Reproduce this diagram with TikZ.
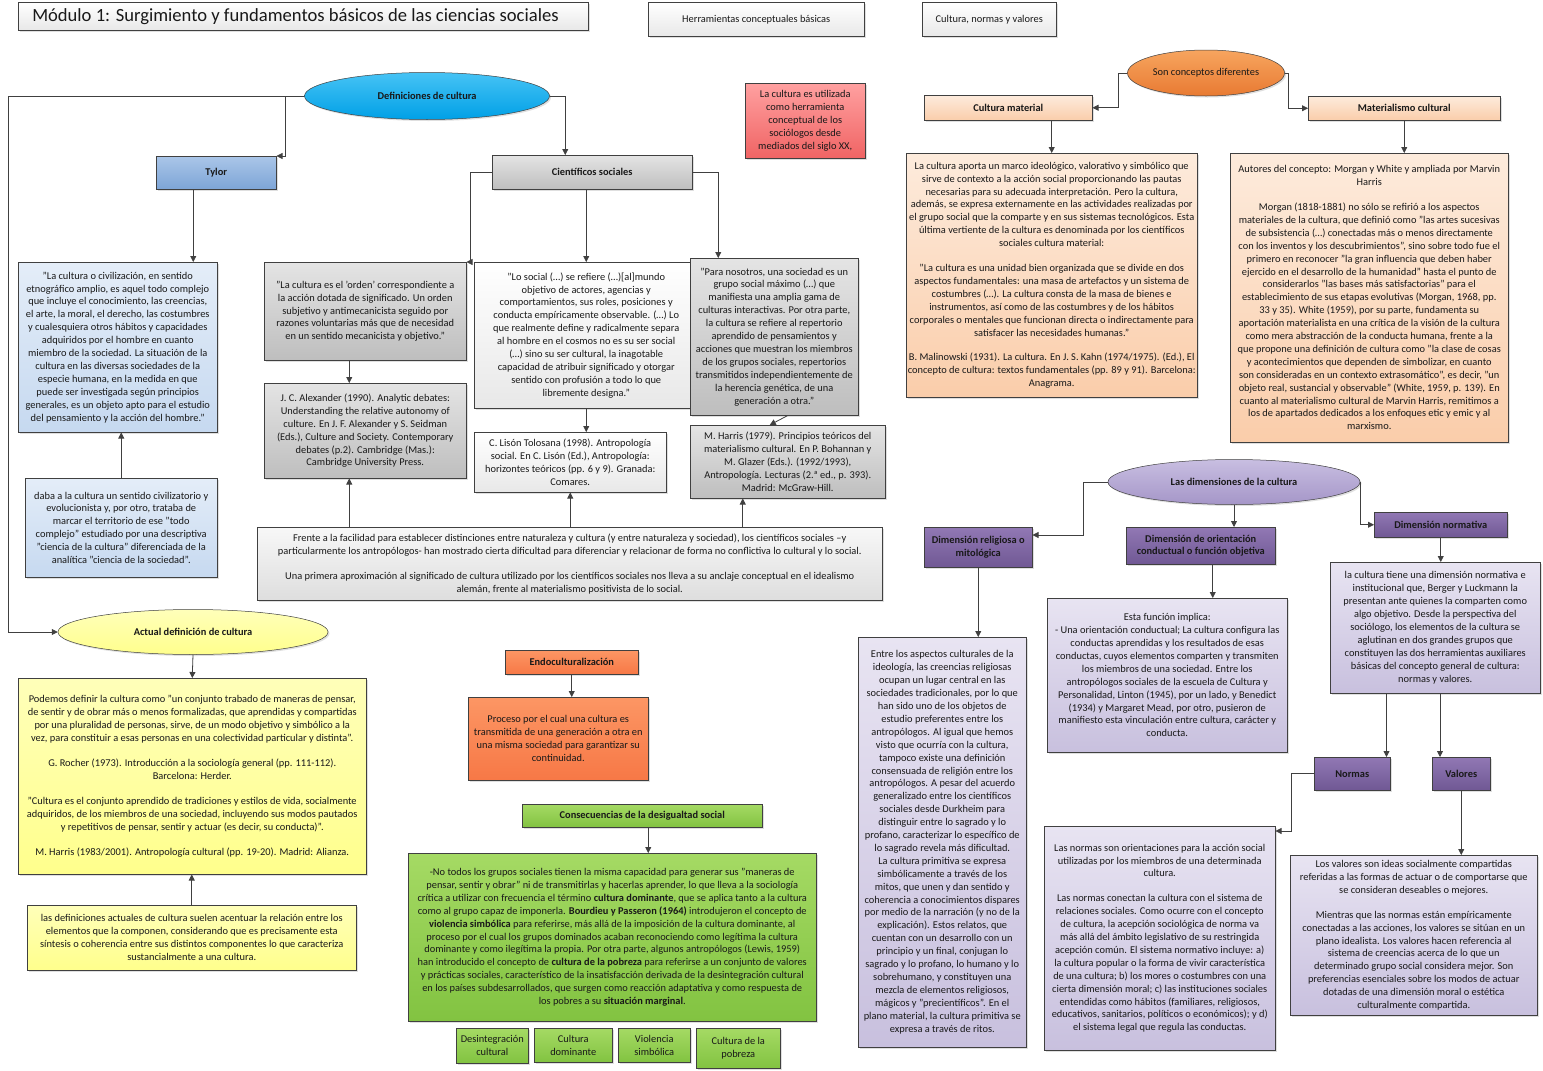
\documentclass[tikz,border=0pt]{standalone}
\usepackage{fontspec}
\setmainfont{Carlito}
\usetikzlibrary{arrows.meta,shapes.geometric,shadows,positioning}

\definecolor{lncol}{RGB}{64,64,64}
\definecolor{txtcol}{RGB}{25,25,25}
\definecolor{hdrB}{RGB}{232,232,232}
\definecolor{cyanT}{RGB}{70,195,245}
\definecolor{cyanB}{RGB}{0,160,230}
\definecolor{blueT}{RGB}{170,198,232}
\definecolor{blueB}{RGB}{125,165,215}
\definecolor{bluelT}{RGB}{228,237,248}
\definecolor{bluelB}{RGB}{198,217,240}
\definecolor{grayT}{RGB}{228,228,228}
\definecolor{grayB}{RGB}{190,190,190}
\definecolor{graylB}{RGB}{232,232,232}
\definecolor{redT}{RGB}{255,160,160}
\definecolor{redB}{RGB}{240,100,100}
\definecolor{yelT}{RGB}{255,255,185}
\definecolor{yelB}{RGB}{255,255,140}
\definecolor{corT}{RGB}{252,150,100}
\definecolor{corB}{RGB}{247,120,70}
\definecolor{grnT}{RGB}{165,218,100}
\definecolor{grnB}{RGB}{130,195,65}
\definecolor{oraT}{RGB}{247,165,95}
\definecolor{oraB}{RGB}{232,122,50}
\definecolor{peaT}{RGB}{253,235,220}
\definecolor{peaB}{RGB}{250,205,170}
\definecolor{lavT}{RGB}{200,190,225}
\definecolor{lavB}{RGB}{165,150,200}
\definecolor{purT}{RGB}{145,120,180}
\definecolor{purB}{RGB}{112,88,148}
\definecolor{lvtT}{RGB}{232,228,242}
\definecolor{lvtB}{RGB}{200,192,222}

\begin{document}
\begin{tikzpicture}[x=1pt,y=-1pt,
  font=\fontsize{10.4}{12.9}\selectfont,
  box/.style={draw=lncol,line width=0.5pt,align=center,inner sep=1.5pt,
    anchor=north west,text=txtcol,
    drop shadow={opacity=0.25,shadow xshift=1.5pt,shadow yshift=-1.5pt}},
  wh/.style 2 args={minimum width=#1,minimum height=#2},
  bold/.style={font=\fontsize{10.4}{12.9}\selectfont\bfseries},
  oval/.style={ellipse,draw=lncol,line width=0.5pt,inner sep=0pt,text=txtcol,
    drop shadow={opacity=0.25,shadow xshift=1.5pt,shadow yshift=-1.5pt}},
  arr/.style={draw=lncol,line width=0.8pt,-{Triangle[length=6pt,width=6pt]}},
  hdr/.style={top color=white,bottom color=hdrB},
  cyanfill/.style={top color=cyanT,bottom color=cyanB},
  bluelab/.style={top color=blueT,bottom color=blueB},
  bluetxt/.style={top color=bluelT,bottom color=bluelB},
  graytxt/.style={top color=grayT,bottom color=grayB},
  whitetxt/.style={top color=white,bottom color=graylB},
  frentefill/.style={top color=white!97!black,bottom color=white!87!black},
  redfill/.style={top color=redT,bottom color=redB},
  yelfill/.style={top color=yelT,bottom color=yelB},
  corfill/.style={top color=corT,bottom color=corB},
  grnfill/.style={top color=grnT,bottom color=grnB},
  orafill/.style={top color=oraT,bottom color=oraB},
  peafill/.style={top color=peaT,bottom color=peaB},
  lavfill/.style={top color=lavT,bottom color=lavB},
  purlab/.style={top color=purT,bottom color=purB},
  lavtxt/.style={top color=lvtT,bottom color=lvtB}]
\def\gap{12pt}
\useasboundingbox (0,0) rectangle (1543,1071);
\fill[white] (0,0) rectangle (1543,1071);

% cabecera
\node[box,hdr,minimum height=28,inner xsep=14pt,
  font=\fontsize{18.6}{20}\selectfont] (titulo) at (18,2)
  {\makebox[542pt][l]{Módulo 1: Surgimiento y fundamentos básicos de las ciencias sociales}};
\node[box,hdr,wh={216}{34}] (herr) at (648,2) {Herramientas conceptuales básicas};
\node[box,hdr,wh={134}{34}] (cnv) at (922,2) {Cultura, normas y valores};

% definiciones de cultura
\node[oval,cyanfill,bold,minimum width=245,minimum height=47] (defs) at (427,96)
  {Definiciones de cultura};
\node[box,bluelab,bold,wh={120}{33}] (tylor) at (156,156) {Tylor};
\node[box,graytxt,bold,wh={200}{34}] (cs) at (492,155) {Científicos sociales};
\node[box,redfill,wh={120}{75}] (siglo) at (745,83)
  {La cultura es utilizada\\como herramienta\\conceptual de los\\sociólogos desde\\mediados del siglo XX,};
\node[box,bluetxt,wh={199}{170}] (tylq) at (18,262)
  {"La cultura o civilización, en sentido\\etnográfico amplio, es aquel todo complejo\\que incluye el conocimiento, las creencias,\\el arte, la moral, el derecho, las costumbres\\y cualesquiera otros hábitos y capacidades\\adquiridos por el hombre en cuanto\\miembro de la sociedad. La situación de la\\cultura en las diversas sociedades de la\\especie humana, en la medida en que\\puede ser investigada según principios\\generales, es un objeto apto para el estudio\\del pensamiento y la acción del hombre."};
\node[box,bluetxt,wh={192}{99}] (daba) at (25,478)
  {daba a la cultura un sentido civilizatorio y\\evolucionista y, por otro, trataba de\\marcar el territorio de ese "todo\\complejo" estudiado por una descriptiva\\"ciencia de la cultura" diferenciada de la\\analítica "ciencia de la sociedad".};
\node[box,graytxt,wh={202}{98}] (q1) at (264,262)
  {"La cultura es el 'orden' correspondiente a\\la acción dotada de significado. Un orden\\subjetivo y antimecanicista seguido por\\razones voluntarias más que de necesidad\\en un sentido mecanicista y objetivo."};
\node[box,graytxt,wh={202}{95}] (alex) at (264,383)
  {J. C. Alexander (1990). Analytic debates:\\Understanding the relative autonomy of\\culture. En J. F. Alexander y S. Seidman\\(Eds.), Culture and Society. Contemporary\\debates (p.2). Cambridge (Mas.):\\Cambridge University Press.};
\node[box,whitetxt,wh={224}{146}] (q2) at (474,262)
  {"Lo social (…) se refiere (…)[al]mundo\\objetivo de actores, agencias y\\comportamientos, sus roles, posiciones y\\conducta empíricamente observable. (…) Lo\\que realmente define y radicalmente separa\\al hombre en el cosmos no es su ser social\\(…) sino su ser cultural, la inagotable\\capacidad de atribuir significado y otorgar\\sentido con profusión a todo lo que\\libremente designa."};
\node[box,whitetxt,wh={192}{60}] (lison) at (474,432)
  {C. Lisón Tolosana (1998). Antropología\\social. En C. Lisón (Ed.), Antropología:\\horizontes teóricos (pp. 6 y 9). Granada:\\Comares.};
\node[box,graytxt,wh={168}{157}] (q3) at (690,258)
  {"Para nosotros, una sociedad es un\\grupo social máximo (…) que\\manifiesta una amplia gama de\\culturas interactivas. Por otra parte,\\la cultura se refiere al repertorio\\aprendido de pensamientos y\\acciones que muestran los miembros\\de los grupos sociales, repertorios\\transmitidos independientemente de\\la herencia genética, de una\\generación a otra."};
\node[box,graytxt,wh={195}{73}] (harris) at (690,425)
  {M. Harris (1979). Principios teóricos del\\materialismo cultural. En P. Bohannan y\\M. Glazer (Eds.). (1992/1993),\\Antropología. Lecturas (2.ª ed., p. 393).\\Madrid: McGraw-Hill.};
\node[box,frentefill,wh={625}{73}] (frente) at (257,527)
  {Frente a la facilidad para establecer distinciones entre naturaleza y cultura (y entre naturaleza y sociedad), los científicos sociales –y\\particularmente los antropólogos- han mostrado cierta dificultad para diferenciar y relacionar de forma no conflictiva lo cultural y lo social.\\[\gap]Una primera aproximación al significado de cultura utilizado por los científicos sociales nos lleva a su anclaje conceptual en el idealismo\\alemán, frente al materialismo positivista de lo social.};

% actual definicion
\node[oval,yelfill,bold,minimum width=270,minimum height=45] (actual) at (193,632)
  {Actual definición de cultura};
\node[box,yelfill,wh={348}{196}] (ybox) at (18,678)
  {Podemos definir la cultura como "un conjunto trabado de maneras de pensar,\\de sentir y de obrar más o menos formalizadas, que aprendidas y compartidas\\por una pluralidad de personas, sirve, de un modo objetivo y simbólico a la\\vez, para constituir a esas personas en una colectividad particular y distinta".\\[\gap]G. Rocher (1973). Introducción a la sociología general (pp. 111-112).\\Barcelona: Herder.\\[\gap]"Cultura es el conjunto aprendido de tradiciones y estilos de vida, socialmente\\adquiridos, de los miembros de una sociedad, incluyendo sus modos pautados\\y repetitivos de pensar, sentir y actuar (es decir, su conducta)".\\[\gap]M. Harris (1983/2001). Antropología cultural (pp. 19-20). Madrid: Alianza.};
\node[box,yelfill,wh={329}{65}] (ydef) at (27,905)
  {las definiciones actuales de cultura suelen acentuar la relación entre los\\elementos que la componen, considerando que es precisamente esta\\síntesis o coherencia entre sus distintos componentes lo que caracteriza\\sustancialmente a una cultura.};

% endoculturalizacion y desigualdad
\node[box,corfill,bold,wh={133}{24}] (endo) at (505,650) {Endoculturalización};
\node[box,corfill,wh={180}{83}] (proc) at (468,697)
  {Proceso por el cual una cultura es\\transmitida de una generación a otra en\\una misma sociedad para garantizar su\\continuidad.};
\node[box,grnfill,bold,wh={240}{23}] (cons) at (522,804) {Consecuencias de la desigualtad social};
\node[box,grnfill,wh={408}{168}] (verde) at (408,853)
  {-No todos los grupos sociales tienen la misma capacidad para generar sus "maneras de\\pensar, sentir y obrar" ni de transmitirlas y hacerlas aprender, lo que lleva a la sociología\\crítica a utilizar con frecuencia el término \textbf{cultura dominante}, que se aplica tanto a la cultura\\como al grupo capaz de imponerla. \textbf{Bourdieu y Passeron (1964)} introdujeron el concepto de\\\textbf{violencia simbólica} para referirse, más allá de la imposición de la cultura dominante, al\\proceso por el cual los grupos dominados acaban reconociendo como legítima la cultura\\dominante y como ilegítima la propia. Por otra parte, algunos antropólogos (Lewis, 1959)\\han introducido el concepto de \textbf{cultura de la pobreza} para referirse a un conjunto de valores\\y prácticas sociales, característico de la insatisfacción derivada de la desintegración cultural\\en los países subdesarrollados, que surgen como reacción adaptativa y como respuesta de\\los pobres a su \textbf{situación marginal}.};
\node[box,grnfill,wh={72}{35}] (desint) at (456,1028) {Desintegración\\cultural};
\node[box,grnfill,wh={78}{34}] (cdom) at (534,1028) {Cultura\\dominante};
\node[box,grnfill,wh={72}{34}] (viol) at (618,1028) {Violencia\\simbólica};
\node[box,grnfill,wh={84}{40}] (pobr) at (696,1028) {Cultura de la\\pobreza};

% cultura material / materialismo cultural
\node[oval,orafill,minimum width=157,minimum height=46] (son) at (1206,73)
  {Son conceptos diferentes};
\node[box,peafill,bold,wh={168}{25}] (cm) at (924,95) {Cultura material};
\node[box,peafill,bold,wh={192}{24}] (mc) at (1308,96) {Materialismo cultural};
\node[box,peafill,wh={230}{244}] (cmtext) at (906,153)
  {La cultura aporta un marco ideológico, valorativo y simbólico que\\sirve de contexto a la acción social proporcionando las pautas\\necesarias para su adecuada interpretación. Pero la cultura,\\además, se expresa externamente en las actividades realizadas por\\el grupo social que la comparte y en sus sistemas tecnológicos. Esta\\última vertiente de la cultura es denominada por los científicos\\sociales cultura material:\\[\gap]"La cultura es una unidad bien organizada que se divide en dos\\aspectos fundamentales: una masa de artefactos y un sistema de\\costumbres (…). La cultura consta de la masa de bienes e\\instrumentos, así como de las costumbres y de los hábitos\\corporales o mentales que funcionan directa o indirectamente para\\satisfacer las necesidades humanas."\\[\gap]B. Malinowski (1931). La cultura. En J. S. Kahn (1974/1975). (Ed.), El\\concepto de cultura: textos fundamentales (pp. 89 y 91). Barcelona:\\Anagrama.};
\node[box,peafill,wh={278}{289}] (mctext) at (1230,153)
  {Autores del concepto: Morgan y White y ampliada por Marvin\\Harris\\[\gap]Morgan (1818-1881) no sólo se refirió a los aspectos\\materiales de la cultura, que definió como "las artes sucesivas\\de subsistencia (…) conectadas más o menos directamente\\con los inventos y los descubrimientos", sino sobre todo fue el\\primero en reconocer "la gran influencia que deben haber\\ejercido en el desarrollo de la humanidad" hasta el punto de\\considerarlos "las bases más satisfactorias" para el\\establecimiento de sus etapas evolutivas (Morgan, 1968, pp.\\33 y 35). White (1959), por su parte, fundamenta su\\aportación materialista en una crítica de la visión de la cultura\\como mera abstracción de la conducta humana, frente a la\\que propone una definición de cultura como "la clase de cosas\\y acontecimientos que dependen de simbolizar, en cuanto\\son consideradas en un contexto extrasomático", es decir, "un\\objeto real, sustancial y observable" (White, 1959, p. 139). En\\cuanto al materialismo cultural de Marvin Harris, remitimos a\\los de apartados dedicados a los enfoques etic y emic y al\\marxismo.};

% dimensiones de la cultura
\node[oval,lavfill,bold,minimum width=252,minimum height=45] (dims) at (1234,482)
  {Las dimensiones de la cultura};
\node[box,purlab,bold,wh={108}{40}] (relig) at (924,527) {Dimensión religiosa o\\mitológica};
\node[box,purlab,bold,wh={149}{37}] (orient) at (1126,527)
  {Dimensión de orientación\\conductual o función objetiva};
\node[box,purlab,bold,wh={133}{25}] (normv) at (1374,512) {Dimensión normativa};
\node[box,lavtxt,wh={168}{410}] (religtext) at (858,637)
  {Entre los aspectos culturales de la\\ideología, las creencias religiosas\\ocupan un lugar central en las\\sociedades tradicionales, por lo que\\han sido uno de los objetos de\\estudio preferentes entre los\\antropólogos. Al igual que hemos\\visto que ocurría con la cultura,\\tampoco existe una definición\\consensuada de religión entre los\\antropólogos. A pesar del acuerdo\\generalizado entre los científicos\\sociales desde Durkheim para\\distinguir entre lo sagrado y lo\\profano, caracterizar lo específico de\\lo sagrado revela más dificultad.\\La cultura primitiva se expresa\\simbólicamente a través de los\\mitos, que unen y dan sentido y\\coherencia a conocimientos dispares\\por medio de la narración (y no de la\\explicación). Estos relatos, que\\cuentan con un desarrollo con un\\principio y un final, conjugan lo\\sagrado y lo profano, lo humano y lo\\sobrehumano, y constituyen una\\mezcla de elementos religiosos,\\mágicos y "precientíficos". En el\\plano material, la cultura primitiva se\\expresa a través de ritos.};
\node[box,lavtxt,wh={240}{154}] (orienttext) at (1047,598)
  {Esta función implica:\\- Una orientación conductual; La cultura configura las\\conductas aprendidas y los resultados de esas\\conductas, cuyos elementos comparten y transmiten\\los miembros de una sociedad. Entre los\\antropólogos sociales de la escuela de Cultura y\\Personalidad, Linton (1945), por un lado, y Benedict\\(1934) y Margaret Mead, por otro, pusieron de\\manifiesto esta vinculación entre cultura, carácter y\\conducta.};
\node[box,lavtxt,wh={210}{131}] (nvtext) at (1330,562)
  {la cultura tiene una dimensión normativa e\\institucional que, Berger y Luckmann la\\presentan ante quienes la comparten como\\algo objetivo. Desde la perspectiva del\\sociólogo, los elementos de la cultura se\\aglutinan en dos grandes grupos que\\constituyen las dos herramientas auxiliares\\básicas del concepto general de cultura:\\normas y valores.};
\node[box,purlab,bold,wh={76}{33}] (normas) at (1314,757) {Normas};
\node[box,purlab,bold,wh={58}{33}] (valores) at (1432,757) {Valores};
\node[box,lavtxt,wh={231}{224}] (normtext) at (1044,826)
  {Las normas son orientaciones para la acción social\\utilizadas por los miembros de una determinada\\cultura.\\[\gap]Las normas conectan la cultura con el sistema de\\relaciones sociales. Como ocurre con el concepto\\de cultura, la acepción sociológica de norma va\\más allá del ámbito legislativo de su restringida\\acepción común. El sistema normativo incluye: a)\\la cultura popular o la forma de vivir característica\\de una cultura; b) los mores o costumbres con una\\cierta dimensión moral; c) las instituciones sociales\\entendidas como hábitos (familiares, religiosos,\\educativos, sanitarios, políticos o económicos); y d)\\el sistema legal que regula las conductas.};
\node[box,lavtxt,wh={247}{160}] (valtext) at (1290,855)
  {Los valores son ideas socialmente compartidas\\referidas a las formas de actuar o de comportarse que\\se consideran deseables o mejores.\\[\gap]Mientras que las normas están empíricamente\\conectadas a las acciones, los valores se sitúan en un\\plano idealista. Los valores hacen referencia al\\sistema de creencias acerca de lo que un\\determinado grupo social considera mejor. Son\\preferencias esenciales sobre los modos de actuar\\dotadas de una dimensión moral o estética\\culturalmente compartida.};

% conectores
\coordinate (ramaT) at (285,96);
\draw[arr] (defs.west) -- (8,96) |- (actual.west);
\draw[arr] (ramaT) |- (tylor.north east);
\draw[arr] (defs.east) -| ([xshift=-27pt]cs.north);
\draw[arr] ([xshift=-23pt]tylor.south) -- ([xshift=-23pt]tylor.south |- tylq.north);
\draw[arr] (daba.north) -- (daba.north |- tylq.south);
\draw[arr] (cs.west) -- ([xshift=4pt]q1.north east |- cs.west) |- (q1.north east);
\draw[arr] (q2.north |- cs.south) -- (q2.north);
\draw[arr] (cs.east) -| ([xshift=-56pt]q3.north);
\draw[arr] ([xshift=-16pt]q1.south) -- ([xshift=-16pt]q1.south |- alex.north);
\draw[arr] (q2.south) -- (q2.south |- lison.north);
\draw[arr] (harris.north |- q3.south) -- ([xshift=-18pt]harris.north);
\draw[arr] ([xshift=-16pt]q1.south |- frente.north) -- ([xshift=-16pt]q1.south |- alex.south);
\draw[arr] (lison.south |- frente.north) -- (lison.south);
\draw[arr] ([xshift=-45pt]harris.south |- frente.north) -- ([xshift=-45pt]harris.south);
\draw[arr] (actual.south) -- (ybox.north);
\draw[arr] (ydef.north) -- (ydef.north |- ybox.south);
\draw[arr] (endo.south) -- (endo.south |- proc.north);
\draw[arr] ([xshift=6pt]cons.south) -- ([xshift=6pt]cons.south |- verde.north);
\draw[arr] (son.west) -- (1118,73) |- (cm.east);
\draw[arr] (son.east) -- (1288,73) |- (mc.west);
\draw[arr] (cmtext.north |- cm.south) -- (cmtext.north);
\draw[arr] (mc.south) -- (mc.south |- mctext.north);
\draw[arr] (dims.west) -- (1083,482) |- ([yshift=-8pt]relig.north east);
\draw[arr] (dims.south) -- (dims.south |- orient.north);
\draw[arr] (dims.east) |- (normv.west);
\draw[arr] (relig.south) -- (relig.south |- religtext.north);
\draw[arr] ([xshift=12pt]orient.south) -- ([xshift=12pt]orient.south |- orienttext.north);
\draw[arr] (normv.south) -- (normv.south |- nvtext.north);
\draw[arr] ([xshift=-4pt]normas.north east |- nvtext.south) -- ([xshift=-4pt]normas.north east);
\draw[arr] ([xshift=8pt]valores.north west |- nvtext.south) -- ([xshift=8pt]valores.north west);
\draw[arr] (normas.west) -- ++(-23,0) |- ([yshift=-5pt]normtext.north east);
\draw[arr] (valores.south) -- (valores.south |- valtext.north);
\end{tikzpicture}
\end{document}
